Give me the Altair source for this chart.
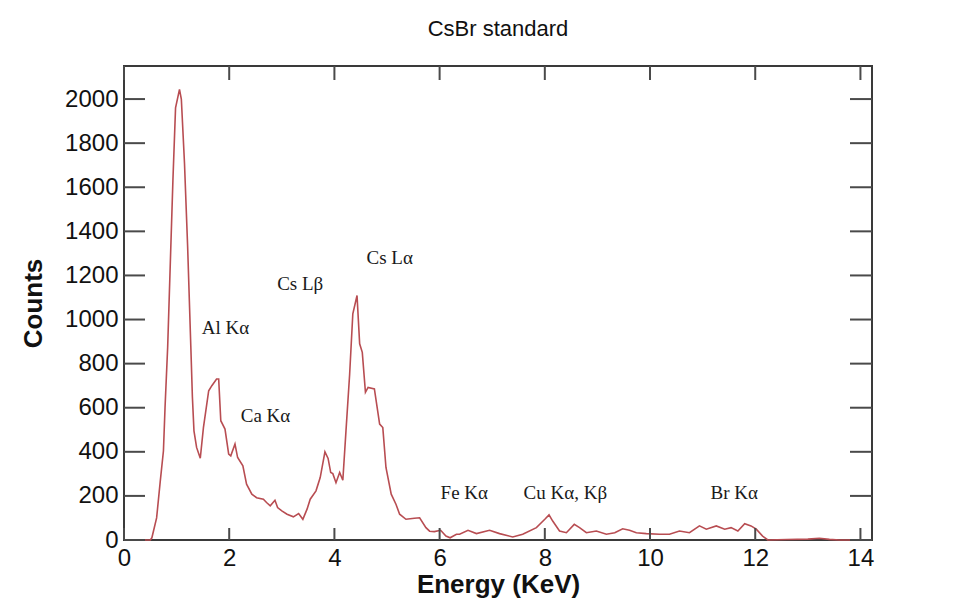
import altair as alt
import pandas as pd

# ---- data ----
energy = [0.0, 0.50, 0.53, 0.62, 0.69, 0.75, 0.78, 0.83, 0.93, 0.98, 1.055, 1.09, 1.15, 1.21, 1.27,
          1.30, 1.33, 1.38, 1.45, 1.51, 1.61, 1.67, 1.76, 1.80, 1.84, 1.92, 1.99, 2.03, 2.11, 2.16,
          2.26, 2.33, 2.43, 2.52, 2.65, 2.71, 2.78, 2.87, 2.92, 3.00, 3.10, 3.22, 3.32, 3.40, 3.48,
          3.54, 3.65, 3.73, 3.82, 3.88, 3.93, 3.97, 4.03, 4.10, 4.16, 4.22, 4.29, 4.35, 4.43, 4.48,
          4.53, 4.59, 4.64, 4.76, 4.86, 4.92, 4.98, 5.08, 5.17, 5.24, 5.36, 5.52, 5.62, 5.74, 5.81,
          5.90, 6.02, 6.12, 6.20, 6.32, 6.38, 6.54, 6.70, 6.95, 7.14, 7.39, 7.58, 7.84, 8.00, 8.08,
          8.15, 8.28, 8.41, 8.56, 8.66, 8.79, 8.98, 9.17, 9.33, 9.48, 9.61, 9.74, 9.93, 10.18, 10.37,
          10.56, 10.75, 10.94, 11.07, 11.26, 11.42, 11.54, 11.67, 11.80, 11.92, 12.02, 12.14, 12.24,
          12.60, 13.00, 13.22, 13.41, 13.60, 14.22]
counts = [0, 0, 10, 100, 268, 405, 600, 874, 1632, 1960, 2044, 2000, 1709, 1329, 880,
          650, 495, 420, 371, 510, 677, 700, 730, 730, 541, 503, 390, 382, 435, 374,
          336, 253, 208, 192, 185, 170, 155, 180, 147, 132, 117, 105, 120, 94, 140,
          185, 223, 283, 400, 370, 306, 301, 260, 306, 271, 495, 753, 1026, 1109, 890,
          851, 670, 692, 685, 526, 510, 329, 208, 162, 117, 94, 99, 101, 56, 40,
          38, 44, 18, 10, 26, 26, 44, 29, 44, 29, 14, 26, 56, 94, 114,
          86, 41, 33, 71, 56, 33, 41, 26, 33, 51, 44, 33, 29, 26, 26,
          41, 33, 64, 49, 64, 49, 56, 41, 74, 64, 49, 18, 0,
          2, 4, 8, 3, 0, 0]

peak_labels = ["Al Kα", "Ca Kα", "Cs Lβ", "Cs Lα", "Fe Kα", "Cu Kα, Kβ", "Br Kα"]
label_energy = [1.93, 2.69, 3.35, 5.05, 6.47, 8.39, 11.60]
label_counts = [936, 533, 1135, 1253, 185, 185, 185]

x_ticks = [0, 2, 4, 6, 8, 10, 12, 14]
y_ticks = [0, 200, 400, 600, 800, 1000, 1200, 1400, 1600, 1800, 2000]

X_DOMAIN = [0, 14.22]
Y_DOMAIN = [0, 2150]
W, H = 748, 474

spec = pd.DataFrame({"energy": energy, "counts": counts})
labels = pd.DataFrame({"label": peak_labels, "energy": label_energy, "counts": label_counts})
xt = pd.DataFrame({"energy": x_ticks})
yt = pd.DataFrame({"counts": y_ticks})

xscale = alt.Scale(domain=X_DOMAIN, nice=False, zero=False)
yscale = alt.Scale(domain=Y_DOMAIN, nice=False)
xaxis = alt.Axis(values=x_ticks, format="d", title="Energy (KeV)", labelPadding=6,
                 titlePadding=1, labelFlush=False)
yaxis = alt.Axis(values=y_ticks, format="d", title="Counts", labelPadding=6,
                 titlePadding=18, labelFlush=False)

X = alt.X("energy:Q", scale=xscale, axis=xaxis, title="Energy (KeV)")
Y = alt.Y("counts:Q", scale=yscale, axis=yaxis, title="Counts")

line = alt.Chart(spec).mark_line(color="#b84d52", strokeWidth=1.6, interpolate="linear").encode(
    x=X, y=Y)

tick_color = "#4a4a4a"
bottom_ticks = alt.Chart(xt).mark_rule(color=tick_color, strokeWidth=2).encode(
    x=X, y=alt.value(H), y2=alt.value(H - 12))
top_ticks = alt.Chart(xt).mark_rule(color=tick_color, strokeWidth=2).encode(
    x=X, y=alt.value(0), y2=alt.value(14))
left_ticks = alt.Chart(yt).mark_rule(color=tick_color, strokeWidth=2).encode(
    y=Y, x=alt.value(0), x2=alt.value(21))
right_ticks = alt.Chart(yt).mark_rule(color=tick_color, strokeWidth=2).encode(
    y=Y, x=alt.value(W), x2=alt.value(W - 22))

text = alt.Chart(labels).mark_text(
    font="Liberation Serif", fontSize=19, color="#1a1a1a", align="center", baseline="alphabetic"
).encode(x=X, y=Y, text="label:N")

chart = alt.layer(line, bottom_ticks, top_ticks, left_ticks, right_ticks, text).properties(
    width=W, height=H,
    title=alt.TitleParams("CsBr standard", font="Liberation Sans", fontSize=22,
                          fontWeight="normal", color="#111", offset=24, anchor="middle"),
    autosize=alt.AutoSizeParams(type="none"),
    padding={"left": 116, "top": 58, "right": 70, "bottom": 62},
).configure_view(
    stroke="#3a3a3a", strokeWidth=2
).configure_axis(
    domain=False, ticks=False, tickSize=0, grid=False,
    labelFont="Liberation Sans", labelFontSize=24, labelColor="#111",
    titleFont="Liberation Sans", titleFontSize=26, titleFontWeight="bold", titleColor="#111",
)

chart.save("out.html", embed_options={"renderer": "svg", "actions": False})
